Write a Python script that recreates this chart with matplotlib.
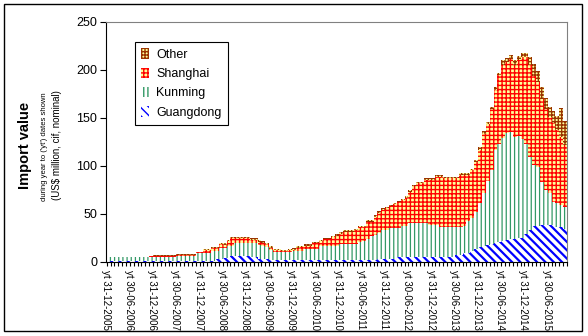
import numpy as np
import matplotlib
matplotlib.use("Agg")
import matplotlib.pyplot as plt
from matplotlib.patches import Rectangle

plt.rcParams['font.family'] = ['Liberation Sans', 'DejaVu Sans']

# Year-to ("yt") import values, US$ million, monthly from Dec 2005 to Oct 2015
guangdong = [
    0.2, 0.2, 0.2, 0.2, 0.2, 0.2, 0.2, 0.2, 0.2, 0.2, 0.2, 0.2,
    0.2, 0.2, 0.2, 0.2, 0.2, 0.2, 1.0, 1.0, 1.0, 1.0, 1.0, 1.0,
    1.0, 1.0, 1.0, 1.0, 2.5, 2.5, 4.0, 4.0, 5.5, 5.5, 5.5, 5.5,
    5.5, 5.0, 5.0, 3.0, 3.0, 3.0, 1.5, 1.5, 1.5, 1.5, 1.5, 1.5,
    2.0, 2.0, 2.0, 2.0, 2.0, 2.0, 2.0, 2.0, 2.0, 2.0, 2.0, 2.0,
    2.0, 2.0, 2.0, 2.0, 2.0, 2.0, 2.0, 2.0, 2.0, 2.0, 3.0, 3.0,
    3.0, 3.0, 3.0, 5.0, 5.0, 5.0, 5.0, 5.0, 5.0, 5.0, 5.0, 5.0,
    5.0, 5.0, 5.0, 5.0, 5.0, 5.0, 7.0, 7.0, 8.5, 8.5, 11.0, 13.0,
    15.0, 16.0, 17.0, 18.0, 19.0, 20.0, 21.0, 22.0, 23.0, 24.0, 24.5, 25.0,
    29.0, 33.0, 37.0, 37.5, 38.0, 38.0, 38.0, 38.0, 36.5, 36.0, 34.0,
]
kunming = [
    4.0, 4.1, 4.1, 4.1, 4.1, 4.1, 4.1, 4.1, 4.1, 4.1, 4.1, 4.5,
    4.5, 4.5, 4.5, 4.5, 4.5, 4.5, 4.8, 4.8, 4.8, 4.8, 4.8, 7.5,
    7.5, 7.5, 7.5, 10.0, 8.5, 11.2, 9.7, 12.5, 11.0, 13.5, 13.5, 13.5,
    13.5, 14.0, 14.0, 14.0, 13.0, 12.0, 10.5, 8.7, 8.7, 8.7, 8.7, 8.7,
    9.0, 9.0, 9.0, 10.7, 10.7, 10.7, 10.7, 14.0, 14.0, 14.0, 14.0, 14.0,
    16.2, 16.2, 16.2, 16.2, 16.2, 18.0, 19.7, 22.0, 24.6, 25.5, 26.4, 29.8,
    29.8, 31.6, 31.6, 29.6, 32.5, 32.5, 34.8, 34.8, 34.8, 34.8, 34.8, 33.0,
    33.0, 33.0, 30.6, 30.6, 30.6, 30.6, 28.6, 28.5, 28.5, 33.5, 34.0, 39.0,
    45.6, 55.0, 67.0, 77.3, 97.0, 103.0, 108.3, 112.2, 112.2, 106.0, 106.2, 103.3,
    94.0, 76.0, 64.0, 61.5, 45.0, 37.0, 33.0, 24.0, 24.5, 23.0, 23.0,
]
shanghai = [
    0.1, 0.5, 0.1, 0.1, 0.1, 0.1, 0.1, 0.1, 0.1, 0.1, 0.1, 0.8,
    1.3, 1.3, 1.3, 1.3, 1.3, 1.3, 1.4, 1.4, 1.4, 1.4, 1.4, 0.9,
    0.9, 3.4, 3.4, 3.6, 3.6, 4.5, 3.8, 4.4, 7.8, 5.3, 5.3, 5.3,
    5.3, 3.6, 3.6, 3.5, 3.5, 3.0, 2.3, 1.7, 1.7, 0.9, 0.9, 1.6,
    1.5, 3.3, 4.0, 4.0, 4.0, 6.6, 6.6, 4.9, 7.5, 7.5, 9.1, 11.1,
    10.8, 13.1, 13.1, 13.1, 14.5, 15.5, 13.8, 17.7, 15.1, 19.4, 21.3, 21.1,
    22.7, 22.9, 25.4, 27.4, 26.5, 29.0, 33.2, 38.7, 41.9, 41.9, 45.7, 47.5,
    47.5, 50.5, 52.9, 51.3, 51.3, 51.3, 51.3, 55.0, 53.5, 48.5, 50.5, 51.9,
    55.9, 62.5, 59.1, 63.5, 63.5, 71.2, 76.2, 73.8, 75.8, 75.5, 79.8, 85.2,
    90.5, 96.0, 93.0, 88.0, 87.0, 84.0, 80.0, 83.0, 76.0, 71.0, 65.0,
]
other = [
    0.2, 0.2, 0.2, 0.2, 0.2, 0.2, 0.2, 0.2, 0.2, 0.2, 0.2, 0.2,
    0.3, 0.3, 0.3, 0.3, 0.3, 0.3, 0.8, 0.8, 0.8, 0.8, 0.8, 0.8,
    0.8, 0.8, 0.8, 0.8, 0.8, 0.8, 1.5, 1.5, 1.5, 1.5, 1.5, 1.5,
    1.5, 1.5, 1.5, 1.5, 1.5, 1.5, 1.5, 1.5, 1.5, 1.2, 1.2, 1.2,
    1.2, 1.5, 1.5, 1.5, 1.5, 1.5, 1.5, 1.5, 1.5, 1.5, 1.5, 1.5,
    1.5, 1.5, 1.5, 1.5, 1.5, 1.5, 1.5, 1.5, 1.5, 1.5, 1.5, 1.5,
    1.5, 1.5, 1.5, 1.5, 1.5, 1.5, 1.5, 1.5, 1.5, 1.5, 1.5, 1.5,
    1.5, 1.5, 1.5, 1.5, 1.5, 1.5, 1.5, 1.5, 1.5, 1.5, 1.5, 2.5,
    2.5, 2.5, 2.5, 2.5, 2.5, 2.5, 4.5, 4.5, 4.5, 4.5, 4.5, 4.5,
    4.5, 8.0, 12.0, 12.0, 12.0, 12.0, 10.0, 12.0, 15.0, 30.0, 25.0,
]
tick_labels = [
    "yt 31-12-2005", "yt 30-06-2006", "yt 31-12-2006", "yt 30-06-2007",
    "yt 31-12-2007", "yt 30-06-2008", "yt 31-12-2008", "yt 30-06-2009",
    "yt 31-12-2009", "yt 30-06-2010", "yt 31-12-2010", "yt 30-06-2011",
    "yt 31-12-2011", "yt 30-06-2012", "yt 31-12-2012", "yt 30-06-2013",
    "yt 31-12-2013", "yt 30-06-2014", "yt 31-12-2014", "yt 30-06-2015",
]

W, H = 588, 336
fig = plt.figure(figsize=(W / 100, H / 100), dpi=100)
ax = fig.add_axes([105.7 / W, 74.5 / H, (567 - 105.7) / W, (261.5 - 22) / H])


def with_hatch_width(draw, lw):
    """Draw an artist with its own hatch line width."""
    def wrapped(renderer):
        with plt.rc_context({"hatch.linewidth": lw}):
            draw(renderer)
    return wrapped


x = np.arange(len(guangdong))
# name, values, background, hatch colour, hatch, hatch line width
layers = [
    ("Guangdong", guangdong, "white", "#0000FF", "\\\\\\\\", 1.6),
    ("Kunming", kunming, "white", "#339966", "||||", 0.9),
    ("Shanghai", shanghai, "#FFFF99", "#FF0000", "++++", 1.0),
    ("Other", other, "#FFFF99", "#993300", "+++++", 1.0),
]
bottom = np.zeros(len(x))
containers = {}
for name, vals, face, hcol, hatch, hlw in layers:
    vals = np.asarray(vals, dtype=float)
    with plt.rc_context({"hatch.linewidth": hlw}):
        bars = ax.bar(x, vals, width=1.0, bottom=bottom, color=face,
                      edgecolor=hcol, linewidth=0, hatch=hatch,
                      antialiased=False, label=name)
    for b in bars:
        if hasattr(b, "set_hatch_linewidth"):
            b.set_hatch_linewidth(hlw)
        b.draw = with_hatch_width(b.draw, hlw)
    containers[name] = bars
    bottom += vals

ax.set_xlim(-0.5, len(x) - 0.5)
ax.set_ylim(0, 250)
ax.set_yticks(np.arange(0, 251, 50))
ax.tick_params(axis="y", direction="out", length=4, width=0.8,
               labelsize=9, pad=2, colors="black")

ax.set_xticks(np.arange(0, len(x), 6) - 0.75)
ax.set_xticklabels(tick_labels, rotation=-90, ha="center", va="top", fontsize=7)
ax.set_xticks(np.arange(-0.5, len(x), 1.0), minor=True)
ax.tick_params(axis="x", which="major", length=0, pad=6)
ax.tick_params(axis="x", which="minor", direction="out", length=3, width=0.8)

for side in ("left", "bottom"):
    ax.spines[side].set_color("black")
    ax.spines[side].set_linewidth(0.8)
for side in ("top", "right"):
    ax.spines[side].set_color("#808080")
    ax.spines[side].set_linewidth(0.8)

leg = ax.legend(
    handles=[containers["Other"], containers["Shanghai"],
             containers["Kunming"], containers["Guangdong"]],
    loc="upper left", bbox_to_anchor=(0.0635, 0.9165), borderaxespad=0,
    fontsize=9, handlelength=0.6, handleheight=0.9, handletextpad=0.6,
    labelspacing=0.55, borderpad=0.5, fancybox=False, framealpha=1,
    edgecolor="black",
)
leg.get_frame().set_linewidth(0.8)

# Rotated y-axis title block
fig.text(25 / W, 1 - 145 / H, "Import value", rotation=90, ha="center",
         va="center", fontsize=10.5, fontweight="bold")
fig.text(45 / W, 1 - 147 / H, "during year to ('yt') dates shown",
         rotation=90, ha="center", va="center", fontsize=5.5)
fig.text(57 / W, 1 - 145 / H, "(US$ million, cif, nominal)", rotation=90,
         ha="center", va="center", fontsize=7)

# Chart-area frame
fig.add_artist(Rectangle((4 / W, 5 / H), 578 / W, 327 / H,
                         transform=fig.transFigure, fill=False,
                         edgecolor="black", linewidth=1.0))

fig.savefig("out.png", dpi=100)
